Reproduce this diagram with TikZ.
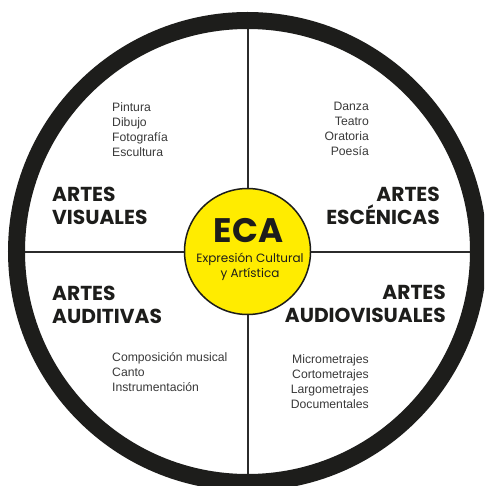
\documentclass[tikz,border=0pt]{standalone}
\usepackage{fontspec}
\setmainfont{Liberation Sans}
\newfontfamily\popfont{Poppins}
\definecolor{ringc}{HTML}{1D1D1B}
\definecolor{linec}{HTML}{2B2B2B}
\definecolor{ecay}{HTML}{FFEC00}
\definecolor{smallc}{HTML}{3A3A3A}
\begin{document}
\begin{tikzpicture}[x=1pt,y=-1pt,
  heading/.style={inner sep=0pt,font=\popfont\bfseries\fontsize{20.2}{22.6}\selectfont,text=ringc},
  itemlist/.style={inner sep=0pt,font=\fontsize{12.2}{15}\selectfont,text=smallc},
  divider/.style={draw=linec,line width=2pt}]
\useasboundingbox (0,0) rectangle (484,486);
\clip (0,0) rectangle (484,486);
\fill[white] (0,0) rectangle (484,486);
\coordinate (c) at (247.5,251.5);
\coordinate (top) at (247.5,20);
\coordinate (bot) at (247.5,480);
\coordinate (lft) at (16,251.5);
\coordinate (rgt) at (478,251.5);
\draw[divider] (top) -- (bot);
\draw[divider] (lft) -- (rgt);
\draw[draw=ringc,line width=17pt] (c) circle[radius=231];
\node[circle,minimum size=126pt,inner sep=0pt,fill=ecay,draw=ringc,line width=1.5pt] (eca) at (c) {};
\node[inner sep=0pt,anchor=base,font=\popfont\bfseries\fontsize{34}{36}\selectfont,text=ringc] (ecat) at (248.5,242) {ECA};
\node[inner sep=0pt,align=center,font=\popfont\fontsize{12}{15}\selectfont,text=ringc] (ecasub) at (250,267) {Expresión Cultural\\y Artística};
\node[heading,anchor=north west,align=left] (vis) at (52,187) {ARTES\\VISUALES};
\node[heading,anchor=north east,align=right] (esc) at (440,187) {ARTES\\ESCÉNICAS};
\node[heading,anchor=north west,align=left] (aud) at (52,286) {ARTES\\AUDITIVAS};
\node[heading,anchor=north east,align=right] (av) at (446,285) {ARTES\\AUDIOVISUALES};
\node[itemlist,anchor=north west,align=left] (visl) at (112,102) {Pintura\\Dibujo\\Fotografía\\Escultura};
\node[itemlist,anchor=north east,align=right] (escl) at (369,102) {Danza\\Teatro\\Oratoria\\Poesía};
\node[itemlist,anchor=north west,align=left] (audl) at (112,352.5) {Composición musical\\Canto\\Instrumentación};
\node[itemlist,anchor=north east,align=right] (avl) at (369,354) {Micrometrajes\\Cortometrajes\\Largometrajes\\Documentales};
\end{tikzpicture}
\end{document}
